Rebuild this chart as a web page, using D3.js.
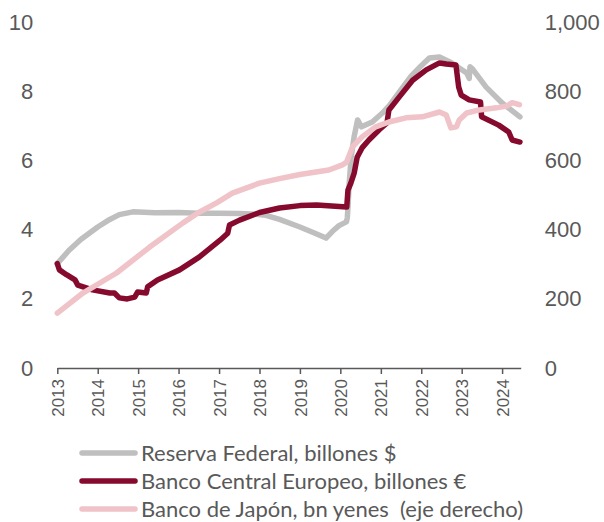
<!DOCTYPE html>
<html>
<head>
<meta charset="utf-8">
<script src="https://d3js.org/d3.v7.min.js"></script>
<style>
  body { margin: 0; background: #fff; }
  svg { font-family: Lato, "Open Sans", sans-serif; }
  .tick text { fill: #595959; }
  .line { fill: none; stroke-width: 5.5px; stroke-linejoin: round; stroke-linecap: round; }
</style>
</head>
<body>
<script>

// Reserva Federal, billones $ (eje izquierdo)
var fedDates = ["2013-01-01","2013-04-15","2013-08-01","2014-01-01","2014-04-20","2014-07-15","2014-11-15","2015-06-01","2016-01-01",
  "2016-07-01","2017-01-01","2017-07-01","2017-12-01","2018-03-01","2018-07-01","2019-01-01","2019-05-01",
  "2019-08-25","2019-10-20","2019-12-20","2020-02-25","2020-03-04","2020-03-11","2020-03-20","2020-04-08",
  "2020-05-05","2020-06-05","2020-07-10","2020-10-15","2021-01-15","2021-03-20","2021-07-01","2021-10-01",
  "2022-01-01","2022-03-15","2022-06-15","2022-10-05","2023-02-15","2023-03-10","2023-03-17","2023-04-10",
  "2023-08-10","2024-01-01","2024-06-10"];
var fedValues = [3.02,3.4,3.72,4.08,4.3,4.44,4.52,4.49,4.5,
  4.48,4.48,4.47,4.45,4.42,4.3,4.08,3.92,
  3.76,3.95,4.12,4.23,4.35,4.7,5.3,6.1,
  6.7,7.18,6.98,7.12,7.38,7.6,8.05,8.45,
  8.75,8.97,9.0,8.83,8.54,8.38,8.72,8.65,
  8.13,7.67,7.27];

// Banco Central Europeo, billones € (eje izquierdo)
var ecbDates = ["2013-01-01","2013-01-20","2013-03-25","2013-06-10","2013-07-05","2013-11-15","2014-04-20",
  "2014-06-01","2014-07-15","2014-09-25","2014-12-01","2014-12-28","2015-03-15","2015-03-28","2015-06-25",
  "2016-01-10","2016-07-05","2017-01-10","2017-03-20","2017-04-05","2017-07-05","2018-01-01","2018-07-01",
  "2019-01-01","2019-06-01","2020-02-28","2020-03-10","2020-04-05","2020-05-05","2020-06-01","2020-07-15",
  "2020-09-15","2020-12-15","2021-02-25","2021-03-15","2021-06-15","2021-10-15","2022-02-15","2022-06-15",
  "2022-08-15","2022-11-10","2022-12-05","2022-12-28","2023-03-10","2023-06-20","2023-06-30","2023-12-01",
  "2024-03-01","2024-04-01","2024-06-10"];
var ecbValues = [3.02,2.84,2.7,2.55,2.4,2.26,2.17,
  2.17,2.03,2.0,2.05,2.2,2.17,2.35,2.55,
  2.84,3.21,3.7,3.9,4.14,4.28,4.5,4.63,
  4.7,4.72,4.66,5.15,5.35,5.64,6.1,6.37,
  6.6,6.89,7.09,7.47,7.84,8.33,8.63,8.83,
  8.8,8.77,8.13,7.9,7.76,7.7,7.27,7.03,
  6.83,6.6,6.54];

// Banco de Japón, bn yenes (eje derecho)
var bojDates = ["2013-01-01","2013-08-20","2014-06-20","2015-04-15","2016-02-10","2016-07-01","2016-12-10",
  "2017-05-01","2018-01-01","2018-07-01","2019-01-01","2019-09-20","2020-01-20","2020-02-25","2020-04-20",
  "2020-07-15","2020-11-15","2021-03-15","2021-08-15","2022-01-10","2022-06-15","2022-08-15","2022-09-25",
  "2022-11-15","2022-12-10","2023-02-15","2023-06-10","2023-11-10","2024-02-10","2024-04-01","2024-06-05"];
var bojValues = [159,217,275,350,420,450,478,
  506,535,548,560,573,588,595,640,
  669,698,712,724,727,741,732,695,
  698,718,738,747,753,758,768,762];

var leftTicks = [0, 2, 4, 6, 8, 10];
var rightTicks = [0, 200, 400, 600, 800, 1000];
var legendLabels = ["Reserva Federal, billones $", "Banco Central Europeo, billones \u20ac",
  "Banco de Jap\u00f3n, bn yenes  (eje derecho)"];

var colors = ["#bfbfbf", "#850a2d", "#f0c3c8"];
var textColor = "#595959";

var parse = d3.timeParse("%Y-%m-%d");
function zip(dates, values) {
  return dates.map(function(d, i) { return { date: parse(d), value: values[i] }; });
}
var fed = zip(fedDates, fedValues);
var ecb = zip(ecbDates, ecbValues);
var boj = zip(bojDates, bojValues);

var width = 604, height = 522;
var plotLeft = 57.3, plotRight = 520.7, plotTop = 22.5, plotBottom = 368;

var svg = d3.select("body").append("svg")
  .attr("width", width)
  .attr("height", height);

var x = d3.scaleTime()
  .domain([parse("2013-01-01"), parse("2024-06-17")])
  .range([plotLeft, plotRight]);
var yL = d3.scaleLinear().domain([0, 10]).range([plotBottom, plotTop]);
var yR = d3.scaleLinear().domain([0, 1000]).range([plotBottom, plotTop]);

// left axis
var gL = svg.append("g")
  .attr("transform", "translate(" + plotLeft + ",0)")
  .call(d3.axisLeft(yL).tickValues(leftTicks).tickSize(0).tickPadding(24));
gL.select(".domain").remove();
gL.selectAll("text").style("font-size", "22px");

// right axis
var gR = svg.append("g")
  .attr("transform", "translate(" + plotRight + ",0)")
  .call(d3.axisRight(yR).tickValues(rightTicks).tickSize(0).tickPadding(24).tickFormat(d3.format(",")));
gR.select(".domain").remove();
gR.selectAll("text").style("font-size", "22px");

// bottom axis
var gX = svg.append("g")
  .attr("transform", "translate(0," + plotBottom + ")")
  .call(d3.axisBottom(x).ticks(d3.timeYear.every(1)).tickSize(6).tickSizeOuter(0).tickFormat(d3.timeFormat("%Y")));
gX.select(".domain").attr("stroke", textColor).attr("stroke-width", 1.5);
gX.selectAll(".tick line").attr("stroke", textColor).attr("stroke-width", 1.5);
gX.selectAll("text")
  .style("font-size", "17px")
  .attr("transform", "rotate(-90)")
  .attr("text-anchor", "end")
  .attr("x", -11)
  .attr("y", 0)
  .attr("dy", "0.36em");

var lineL = d3.line()
  .x(function(d) { return x(d.date); })
  .y(function(d) { return yL(d.value); });
var lineR = d3.line()
  .x(function(d) { return x(d.date); })
  .y(function(d) { return yR(d.value); });

svg.append("path").datum(fed).attr("class", "line").attr("d", lineL).style("stroke", colors[0]);
svg.append("path").datum(ecb).attr("class", "line").attr("d", lineL).style("stroke", colors[1]);
svg.append("path").datum(boj).attr("class", "line").attr("d", lineR).style("stroke", colors[2]);

// legend
var legend = svg.append("g").attr("transform", "translate(80,453)");
legendLabels.forEach(function(label, i) {
  var row = legend.append("g").attr("transform", "translate(0," + (i * 28) + ")");
  row.append("line")
    .attr("x1", 2).attr("x2", 55)
    .attr("stroke", colors[i]).attr("stroke-width", 5.5).attr("stroke-linecap", "round");
  row.append("text")
    .attr("x", 61).attr("dy", "0.35em")
    .style("font-size", "22px")
    .style("white-space", "pre")
    .style("fill", textColor)
    .text(label);
});

</script>
</body>
</html>
